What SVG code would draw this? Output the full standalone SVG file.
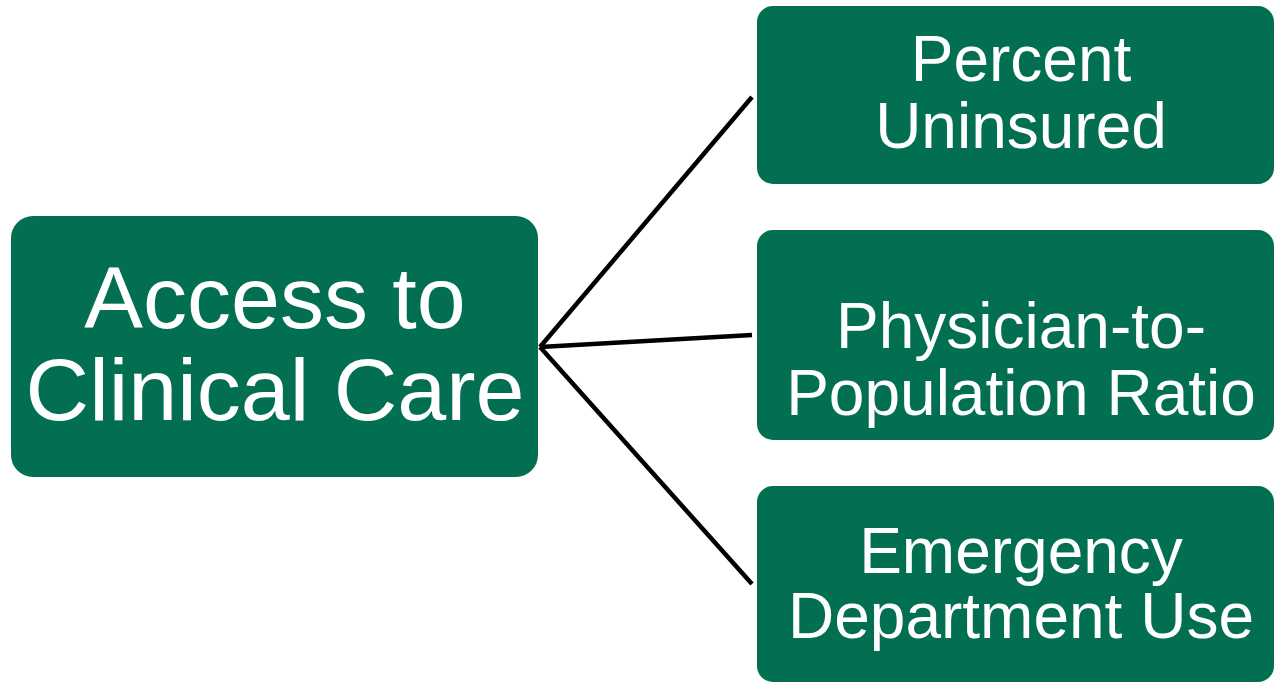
<svg xmlns="http://www.w3.org/2000/svg" width="1274" height="683" viewBox="0 0 1274 683">
<style>
.box{fill:#036F52}
.lbl{fill:#FFFFFF;font-family:"Liberation Sans",Arial,sans-serif;text-anchor:middle}
.big{font-size:88px}
.sm{font-size:64px}
.conn{stroke:#000000;stroke-width:4.5;fill:none}
</style>
<rect width="1274" height="683" fill="#FFFFFF"/>
<g id="connectors">
<line class="conn" x1="540" y1="347" x2="752" y2="97"/>
<line class="conn" x1="540" y1="347" x2="752" y2="335"/>
<line class="conn" x1="540" y1="347" x2="752" y2="584"/>
</g>
<g id="node-access">
<rect class="box" x="11" y="216" width="527" height="261" rx="22" ry="22"/>
<text class="lbl big" x="275" y="328">Access to</text>
<text class="lbl big" x="275" y="420">Clinical Care</text>
</g>
<g id="node-uninsured">
<rect class="box" x="757" y="6" width="517" height="178" rx="16" ry="16"/>
<text class="lbl sm" x="1021" y="81">Percent</text>
<text class="lbl sm" x="1021" y="148">Uninsured</text>
</g>
<g id="node-physician">
<rect class="box" x="757" y="230" width="517" height="210" rx="16" ry="16"/>
<text class="lbl sm" x="1021" y="348">Physician-to-</text>
<text class="lbl sm" x="1021" y="415">Population Ratio</text>
</g>
<g id="node-emergency">
<rect class="box" x="757" y="486" width="517" height="196" rx="16" ry="16"/>
<text class="lbl sm" x="1021" y="573">Emergency</text>
<text class="lbl sm" x="1021" y="638">Department Use</text>
</g>
</svg>
